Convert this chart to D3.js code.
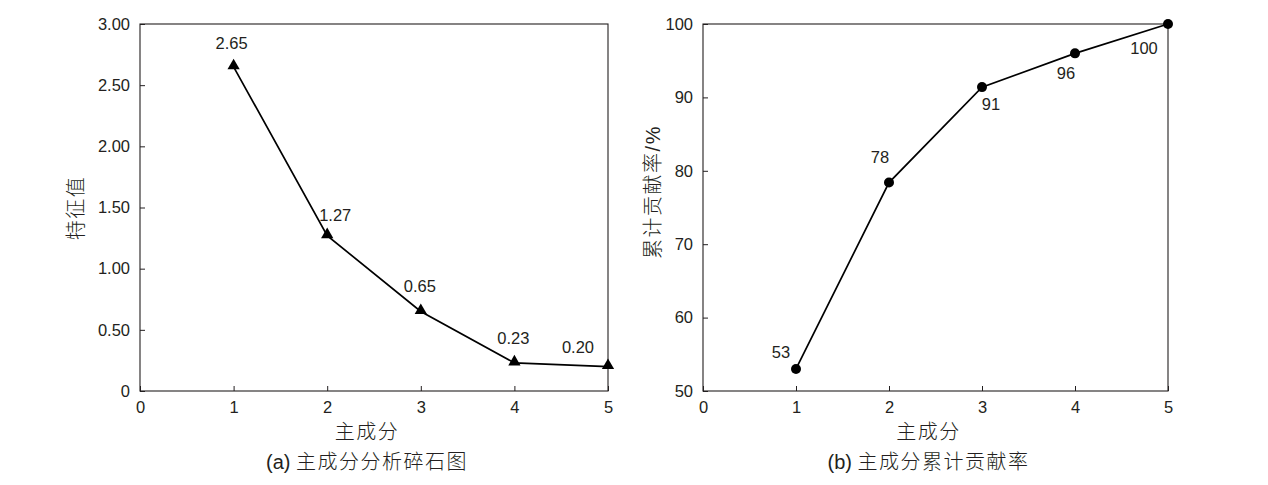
<!DOCTYPE html>
<html><head><meta charset="utf-8">
<script src="https://cdn.jsdelivr.net/npm/d3@7/dist/d3.min.js"></script>
<style>
body{margin:0;background:#fff;}
text{font-family:"Liberation Sans",Arial,"Noto Sans CJK SC",sans-serif;fill:#231f20;}
.cjk{font-family:"Liberation Sans",Arial,"Noto Sans CJK SC",sans-serif;font-weight:300;letter-spacing:1.5px;}
</style></head>
<body><svg id="c" width="1268" height="485"></svg>
<script>
const components = [1, 2, 3, 4, 5];
const eigenvalues = [2.65, 1.27, 0.65, 0.23, 0.20];
const eigenLabels = ["2.65", "1.27", "0.65", "0.23", "0.20"];
const cumulative = [53.0, 78.4, 91.4, 96.0, 100];
const cumLabels = ["53", "78", "91", "96", "100"];
const xTicks = [0, 1, 2, 3, 4, 5];
const yTicksA = [0, 0.5, 1.0, 1.5, 2.0, 2.5, 3.0];
const yTicksB = [50, 60, 70, 80, 90, 100];

// label offsets (dx, dy) relative to each point
const labelOffA = [[-2,-18],[8,-15],[-1,-19],[-1,-19],[-30,-14]];
const labelOffB = [[-15,-11],[-9,-20],[9,23],[-9,26],[-24,30]];

const svg = d3.select("#c");

function panel(opts){
  const g = svg.append("g");
  const x = d3.scaleLinear().domain([0,5]).range([opts.x0, opts.x1]);
  const y = d3.scaleLinear().domain(opts.ydom).range([391, 24]);
  g.append("rect").attr("x", opts.x0).attr("y", 24).attr("width", opts.x1-opts.x0).attr("height", 367)
    .attr("fill","none").attr("stroke","#231f20").attr("stroke-width",1.1);
  const xa = g.append("g").attr("transform",`translate(0,391)`)
    .call(d3.axisBottom(x).tickValues(xTicks).tickSizeInner(-5).tickSizeOuter(0).tickPadding(10).tickFormat(d3.format("d")));
  xa.select(".domain").remove();
  xa.selectAll("line").attr("stroke","#231f20");
  xa.selectAll("text").attr("font-size",16.5).attr("fill","#231f20").attr("dy","0.71em");
  const ya = g.append("g").attr("transform",`translate(${opts.x0},0)`)
    .call(d3.axisLeft(y).tickValues(opts.yticks).tickSizeInner(-5).tickSizeOuter(0).tickPadding(10).tickFormat(opts.yfmt));
  ya.select(".domain").remove();
  ya.selectAll("line").attr("stroke","#231f20");
  ya.selectAll("text").attr("font-size",16.5).attr("fill","#231f20");
  const line = d3.line().x((d,i)=>x(components[i])).y(d=>y(d));
  g.append("path").datum(opts.values).attr("d", line).attr("fill","none")
    .attr("stroke","#000").attr("stroke-width",1.7);
  if(opts.marker==="tri"){
    g.selectAll(".m").data(opts.values).join("path")
      .attr("d", d3.symbol().type(d3.symbolTriangle).size(65))
      .attr("transform",(d,i)=>`translate(${x(components[i])},${y(d)-1})`)
      .attr("fill","#000");
  } else {
    g.selectAll(".m").data(opts.values).join("circle")
      .attr("cx",(d,i)=>x(components[i])).attr("cy",d=>y(d)).attr("r",5).attr("fill","#000");
  }
  g.selectAll(".lb").data(opts.values).join("text")
    .attr("x",(d,i)=>x(components[i])+opts.off[i][0])
    .attr("y",(d,i)=>y(d)+opts.off[i][1])
    .attr("text-anchor","middle").attr("font-size",16.5)
    .text((d,i)=>opts.labels[i]);
  const cx = (opts.x0+opts.x1)/2 - 7;
  g.append("text").attr("class","cjk").attr("x",cx).attr("y",439).attr("text-anchor","middle").attr("font-size",20).text("主成分");
  const cap = g.append("text").attr("class","cjk").attr("x",cx).attr("y",469).attr("text-anchor","middle").attr("font-size",20);
  cap.append("tspan").attr("style","letter-spacing:0").text(opts.captionTag + " ");
  cap.append("tspan").text(opts.caption);
  g.append("text").attr("class","cjk").attr("transform",`translate(${opts.ytx},${opts.yty}) rotate(-90)`)
    .attr("text-anchor","middle").attr("font-size",20).text(opts.ytitle);
}

panel({x0:140, x1:608, ydom:[0,3], yticks:yTicksA,
  yfmt:d=> d===0 ? "0" : d3.format(".2f")(d),
  values:eigenvalues, labels:eigenLabels, off:labelOffA, marker:"tri",
  captionTag:"(a)", caption:"主成分分析碎石图", ytitle:"特征值", ytx:83, yty:208});
panel({x0:703, x1:1168, ydom:[50,100], yticks:yTicksB,
  yfmt:d3.format("d"),
  values:cumulative, labels:cumLabels, off:labelOffB, marker:"circ",
  captionTag:"(b)", caption:"主成分累计贡献率", ytitle:"累计贡献率/%", ytx:660, yty:192});
</script></body></html>
